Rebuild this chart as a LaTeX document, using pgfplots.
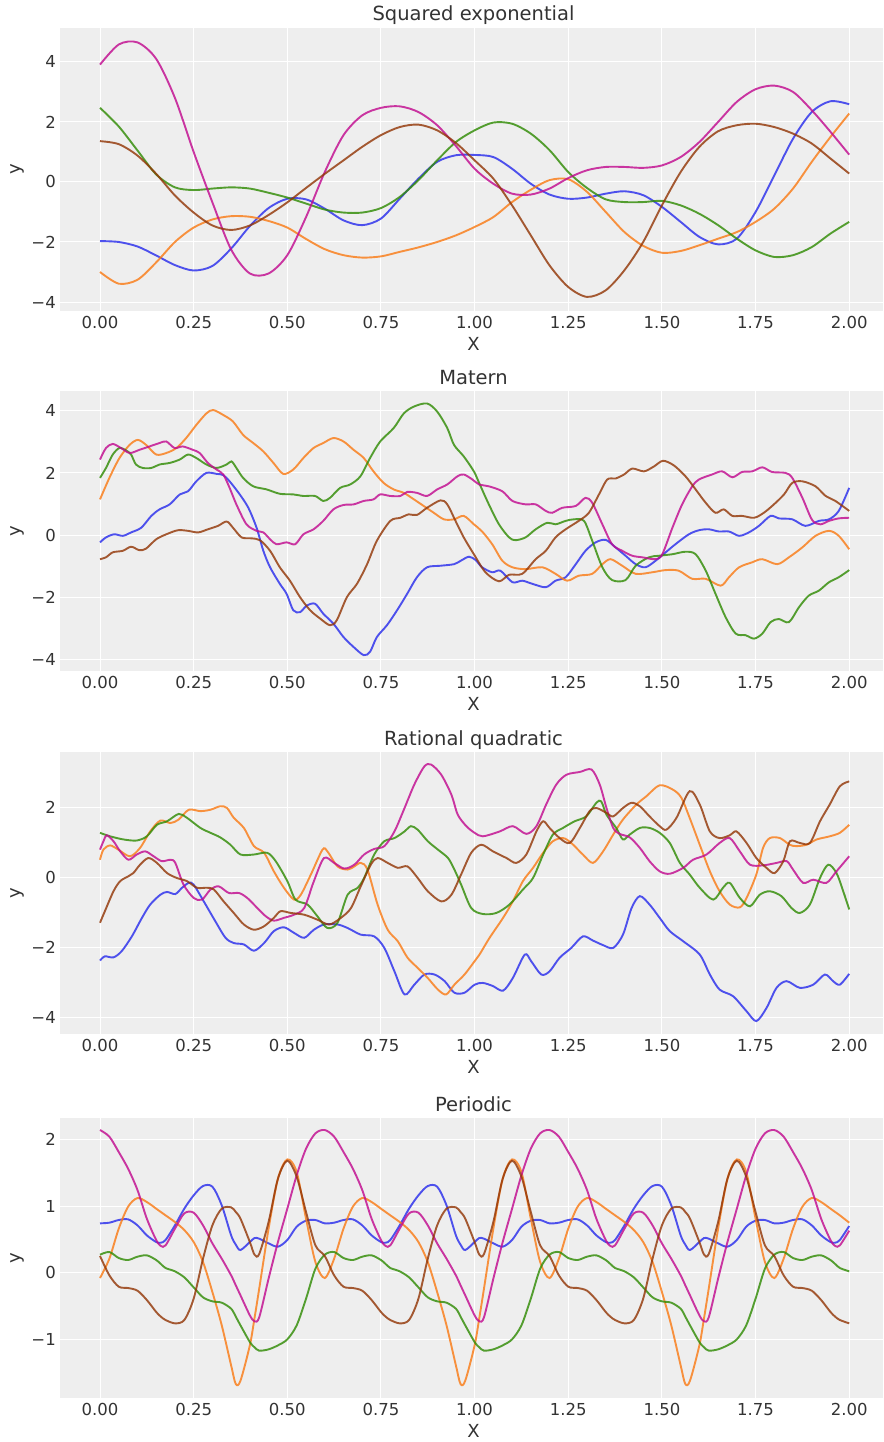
\documentclass[border=0pt]{standalone}
\usepackage{fontspec}
\setmainfont{DejaVu Sans}
\usepackage{pgfplots}
\usepackage{pgfplotstable}
\pgfplotsset{compat=1.18}
\definecolor{cB}{HTML}{2A2EEC}
\definecolor{cO}{HTML}{FA7C17}
\definecolor{cG}{HTML}{328C06}
\definecolor{cM}{HTML}{C10C90}
\definecolor{cR}{HTML}{933708}
\definecolor{bgc}{HTML}{EEEEEE}
\definecolor{txt}{HTML}{333333}

\pgfplotstableread{
x b o g m r
0.00 -1.97 -3.00 2.47 3.91 1.36
0.05 -2.00 -3.39 1.85 4.58 1.26
0.10 -2.15 -3.26 1.05 4.65 0.88
0.15 -2.45 -2.68 0.25 4.10 0.27
0.20 -2.77 -2.00 -0.18 2.80 -0.45
0.25 -2.95 -1.52 -0.27 1.00 -1.02
0.30 -2.80 -1.25 -0.22 -0.68 -1.45
0.35 -2.22 -1.14 -0.18 -2.25 -1.60
0.40 -1.47 -1.16 -0.22 -3.05 -1.45
0.45 -0.87 -1.30 -0.36 -3.05 -1.10
0.50 -0.56 -1.52 -0.52 -2.44 -0.68
0.55 -0.58 -1.90 -0.72 -1.17 -0.20
0.60 -0.89 -2.24 -0.92 0.33 0.27
0.65 -1.28 -2.44 -1.02 1.56 0.72
0.70 -1.44 -2.52 -1.02 2.22 1.17
0.75 -1.22 -2.48 -0.87 2.47 1.56
0.80 -0.56 -2.33 -0.50 2.52 1.83
0.85 0.11 -2.18 0.06 2.33 1.91
0.90 0.67 -2.00 0.72 1.89 1.72
0.95 0.89 -1.78 1.33 1.20 1.30
1.00 0.90 -1.50 1.72 0.44 0.72
1.05 0.83 -1.17 1.98 -0.06 0.11
1.10 0.44 -0.67 1.94 -0.39 -0.78
1.15 -0.06 -0.26 1.61 -0.42 -1.78
1.20 -0.42 0.06 1.06 -0.22 -2.78
1.25 -0.56 0.09 0.33 0.13 -3.50
1.30 -0.52 -0.33 -0.20 0.39 -3.83
1.35 -0.39 -1.00 -0.58 0.50 -3.61
1.40 -0.31 -1.67 -0.67 0.50 -2.94
1.45 -0.44 -2.13 -0.67 0.47 -2.00
1.50 -0.83 -2.36 -0.63 0.55 -0.78
1.55 -1.33 -2.30 -0.78 0.83 0.33
1.60 -1.83 -2.11 -1.06 1.33 1.17
1.65 -2.08 -1.89 -1.44 2.00 1.69
1.70 -1.89 -1.67 -1.89 2.67 1.89
1.75 -1.00 -1.33 -2.28 3.09 1.94
1.80 0.22 -0.89 -2.50 3.21 1.83
1.85 1.44 -0.22 -2.44 3.00 1.61
1.90 2.33 0.67 -2.17 2.39 1.28
1.95 2.69 1.50 -1.72 1.67 0.78
2.00 2.59 2.28 -1.33 0.91 0.28
}\tabSE

\pgfplotstableread{
x y
0.000 -0.23
0.016 -0.07
0.038 0.03
0.061 -0.02
0.083 0.09
0.110 0.24
0.137 0.62
0.159 0.83
0.186 0.99
0.213 1.31
0.235 1.41
0.257 1.73
0.284 2.00
0.311 1.97
0.329 1.93
0.346 1.73
0.373 1.31
0.396 0.88
0.418 0.24
0.436 -0.50
0.454 -1.03
0.480 -1.56
0.498 -1.88
0.516 -2.41
0.534 -2.47
0.552 -2.26
0.574 -2.20
0.596 -2.52
0.623 -2.84
0.650 -3.27
0.677 -3.59
0.704 -3.85
0.721 -3.74
0.739 -3.27
0.766 -2.89
0.793 -2.41
0.820 -1.88
0.846 -1.35
0.873 -1.03
0.909 -0.98
0.945 -0.93
0.963 -0.82
0.985 -0.69
1.003 -0.80
1.020 -1.03
1.047 -1.19
1.069 -1.14
1.101 -1.51
1.127 -1.46
1.154 -1.56
1.190 -1.67
1.216 -1.46
1.243 -1.35
1.270 -0.93
1.296 -0.50
1.323 -0.23
1.350 -0.15
1.376 -0.39
1.403 -0.66
1.430 -0.93
1.456 -1.03
1.483 -0.82
1.510 -0.55
1.536 -0.29
1.572 0.03
1.599 0.16
1.625 0.19
1.652 0.12
1.679 0.12
1.706 -0.02
1.732 0.09
1.759 0.30
1.790 0.62
1.812 0.54
1.848 0.51
1.883 0.30
1.919 0.46
1.946 0.51
1.972 0.78
2.000 1.52
}\tabMb

\pgfplotstableread{
x y
0.000 1.15
0.025 1.84
0.052 2.48
0.079 2.90
0.101 3.06
0.123 2.90
0.150 2.59
0.177 2.64
0.204 2.80
0.230 3.12
0.257 3.54
0.284 3.91
0.302 4.02
0.329 3.86
0.355 3.65
0.382 3.22
0.409 2.96
0.436 2.69
0.463 2.32
0.489 1.97
0.516 2.11
0.543 2.48
0.570 2.80
0.596 2.96
0.623 3.12
0.650 3.01
0.677 2.74
0.704 2.48
0.730 2.05
0.757 1.68
0.784 1.47
0.811 1.36
0.838 1.15
0.864 0.94
0.891 0.72
0.918 0.51
0.945 0.51
0.971 0.62
0.998 0.35
1.020 0.12
1.047 -0.29
1.074 -0.82
1.101 -1.03
1.136 -1.09
1.181 -1.03
1.216 -1.24
1.247 -1.46
1.278 -1.30
1.314 -1.24
1.341 -0.93
1.363 -0.77
1.394 -0.98
1.430 -1.24
1.474 -1.19
1.510 -1.12
1.545 -1.14
1.581 -1.40
1.617 -1.40
1.657 -1.62
1.679 -1.35
1.706 -1.03
1.741 -0.87
1.768 -0.77
1.808 -0.93
1.839 -0.71
1.875 -0.39
1.910 -0.02
1.946 0.14
1.972 -0.02
2.000 -0.45
}\tabMo

\pgfplotstableread{
x y
0.000 1.84
0.016 2.16
0.034 2.59
0.052 2.80
0.070 2.72
0.083 2.59
0.096 2.27
0.114 2.16
0.137 2.16
0.159 2.27
0.186 2.32
0.213 2.43
0.235 2.59
0.257 2.48
0.284 2.27
0.311 2.16
0.338 2.27
0.351 2.37
0.364 2.16
0.382 1.84
0.409 1.57
0.445 1.47
0.480 1.33
0.516 1.31
0.543 1.26
0.574 1.26
0.596 1.10
0.614 1.20
0.641 1.52
0.668 1.63
0.695 1.89
0.721 2.48
0.748 3.01
0.784 3.44
0.811 3.91
0.838 4.13
0.873 4.23
0.900 3.97
0.927 3.44
0.945 2.90
0.971 2.53
0.998 2.05
1.012 1.68
1.038 0.99
1.065 0.35
1.092 -0.07
1.109 -0.16
1.136 -0.07
1.163 0.19
1.194 0.40
1.216 0.35
1.243 0.46
1.265 0.51
1.292 0.46
1.314 -0.18
1.341 -1.03
1.367 -1.44
1.403 -1.44
1.430 -0.98
1.465 -0.71
1.492 -0.66
1.528 -0.61
1.563 -0.53
1.590 -0.61
1.617 -1.14
1.643 -1.88
1.670 -2.63
1.697 -3.16
1.723 -3.21
1.746 -3.32
1.768 -3.16
1.790 -2.79
1.812 -2.69
1.839 -2.79
1.866 -2.31
1.892 -1.94
1.919 -1.78
1.946 -1.51
1.972 -1.35
2.000 -1.12
}\tabMg

\pgfplotstableread{
x y
0.000 2.43
0.016 2.80
0.034 2.93
0.056 2.80
0.079 2.64
0.105 2.74
0.132 2.85
0.159 2.96
0.177 3.01
0.199 2.80
0.221 2.85
0.248 2.74
0.266 2.64
0.288 2.32
0.311 2.11
0.329 1.95
0.346 1.52
0.364 0.99
0.391 0.35
0.418 0.14
0.436 0.09
0.454 -0.13
0.471 -0.29
0.498 -0.23
0.521 -0.29
0.543 0.03
0.570 0.19
0.596 0.46
0.623 0.83
0.650 0.97
0.677 0.99
0.704 1.10
0.730 1.15
0.748 1.31
0.775 1.26
0.802 1.26
0.820 1.39
0.846 1.36
0.873 1.26
0.900 1.47
0.927 1.63
0.954 1.89
0.971 1.95
0.994 1.79
1.012 1.63
1.038 1.57
1.074 1.41
1.101 1.10
1.136 0.99
1.163 0.99
1.190 0.78
1.207 0.72
1.234 0.88
1.270 0.94
1.296 1.20
1.314 1.04
1.341 0.35
1.367 -0.29
1.394 -0.50
1.421 -0.66
1.448 -0.71
1.483 -0.77
1.501 -0.61
1.528 0.24
1.554 0.99
1.581 1.57
1.599 1.79
1.634 1.95
1.661 2.05
1.688 1.86
1.714 2.03
1.741 2.05
1.768 2.18
1.794 2.03
1.830 2.00
1.848 1.84
1.875 1.20
1.901 0.49
1.923 0.35
1.946 0.46
1.972 0.54
2.000 0.56
}\tabMm

\pgfplotstableread{
x y
0.000 -0.77
0.016 -0.71
0.034 -0.55
0.061 -0.50
0.083 -0.37
0.105 -0.48
0.123 -0.43
0.150 -0.13
0.177 0.03
0.208 0.16
0.235 0.14
0.262 0.09
0.288 0.19
0.315 0.30
0.338 0.44
0.355 0.24
0.378 -0.07
0.404 -0.10
0.427 -0.16
0.454 -0.50
0.480 -1.03
0.507 -1.46
0.534 -1.99
0.561 -2.41
0.588 -2.68
0.614 -2.89
0.632 -2.73
0.659 -1.99
0.686 -1.56
0.713 -0.93
0.739 -0.18
0.775 0.46
0.802 0.56
0.824 0.67
0.846 0.65
0.873 0.88
0.909 1.12
0.927 0.99
0.949 0.46
0.971 -0.07
0.998 -0.61
1.029 -1.19
1.065 -1.48
1.092 -1.27
1.127 -1.24
1.163 -0.77
1.190 -0.50
1.216 -0.07
1.243 0.19
1.278 0.46
1.305 0.72
1.332 1.31
1.354 1.79
1.376 1.82
1.399 1.95
1.421 2.14
1.452 2.05
1.479 2.21
1.503 2.39
1.532 2.24
1.563 1.89
1.590 1.47
1.617 1.04
1.643 0.72
1.665 0.83
1.688 0.62
1.714 0.62
1.746 0.56
1.772 0.72
1.799 0.99
1.826 1.31
1.848 1.68
1.875 1.73
1.910 1.57
1.937 1.26
1.963 1.10
2.000 0.78
}\tabMr

\pgfplotstableread{
x y
0.000 -2.38
0.013 -2.26
0.036 -2.29
0.058 -2.11
0.085 -1.69
0.112 -1.16
0.134 -0.78
0.161 -0.50
0.179 -0.42
0.201 -0.48
0.219 -0.30
0.237 -0.16
0.250 -0.21
0.277 -0.69
0.308 -1.26
0.335 -1.73
0.357 -1.88
0.384 -1.92
0.411 -2.10
0.438 -1.88
0.464 -1.54
0.491 -1.43
0.518 -1.59
0.545 -1.73
0.571 -1.50
0.598 -1.35
0.634 -1.35
0.661 -1.45
0.696 -1.64
0.732 -1.69
0.759 -2.02
0.786 -2.69
0.813 -3.35
0.839 -3.07
0.866 -2.78
0.893 -2.78
0.920 -2.97
0.946 -3.30
0.973 -3.30
1.000 -3.07
1.022 -3.02
1.049 -3.11
1.076 -3.24
1.102 -2.88
1.134 -2.21
1.151 -2.40
1.178 -2.78
1.200 -2.69
1.227 -2.30
1.258 -2.02
1.289 -1.69
1.316 -1.81
1.343 -1.94
1.370 -2.02
1.396 -1.64
1.419 -0.88
1.441 -0.54
1.467 -0.78
1.494 -1.16
1.521 -1.54
1.557 -1.83
1.601 -2.21
1.628 -2.78
1.654 -3.21
1.690 -3.40
1.726 -3.83
1.752 -4.11
1.779 -3.74
1.806 -3.16
1.833 -2.97
1.868 -3.16
1.904 -3.07
1.935 -2.78
1.957 -2.97
1.975 -3.07
2.000 -2.76
}\tabRb

\pgfplotstableread{
x y
0.000 0.50
0.009 0.79
0.027 0.91
0.049 0.79
0.080 0.60
0.107 0.84
0.134 1.31
0.161 1.62
0.188 1.55
0.210 1.65
0.237 1.93
0.268 1.89
0.295 1.93
0.321 2.03
0.339 1.98
0.357 1.70
0.384 1.41
0.411 0.89
0.438 0.70
0.464 0.17
0.491 -0.30
0.518 -0.64
0.536 -0.50
0.563 0.08
0.594 0.79
0.607 0.74
0.634 0.31
0.661 0.22
0.679 0.31
0.696 0.41
0.714 0.22
0.741 -0.78
0.768 -1.50
0.795 -1.83
0.821 -2.30
0.848 -2.59
0.875 -2.88
0.902 -3.21
0.924 -3.35
0.946 -3.07
0.973 -2.78
1.000 -2.40
1.013 -2.21
1.040 -1.73
1.076 -1.16
1.102 -0.69
1.129 -0.11
1.156 0.27
1.183 0.70
1.209 1.03
1.236 1.12
1.258 0.98
1.289 0.65
1.316 0.41
1.343 0.74
1.370 1.22
1.396 1.65
1.432 2.08
1.459 2.32
1.494 2.63
1.530 2.50
1.552 2.27
1.574 1.70
1.601 0.93
1.628 0.17
1.654 -0.40
1.681 -0.78
1.708 -0.86
1.726 -0.59
1.752 0.08
1.770 0.84
1.788 1.12
1.815 1.12
1.841 0.93
1.859 0.89
1.886 0.93
1.913 1.08
1.948 1.17
1.975 1.27
2.000 1.50
}\tabRo

\pgfplotstableread{
x y
0.000 1.27
0.027 1.17
0.063 1.08
0.098 1.05
0.125 1.17
0.152 1.50
0.179 1.60
0.210 1.81
0.232 1.70
0.268 1.41
0.295 1.27
0.321 1.14
0.348 0.93
0.375 0.65
0.411 0.65
0.446 0.70
0.469 0.46
0.500 -0.11
0.522 -0.64
0.554 -0.78
0.580 -1.11
0.607 -1.45
0.634 -1.30
0.661 -0.50
0.688 -0.30
0.705 -0.02
0.732 0.65
0.759 1.03
0.786 1.12
0.813 1.31
0.830 1.46
0.848 1.36
0.875 1.03
0.902 0.79
0.929 0.55
0.946 0.22
0.964 -0.21
0.991 -0.88
1.022 -1.05
1.058 -1.02
1.093 -0.78
1.129 -0.35
1.156 -0.02
1.183 0.65
1.209 1.22
1.236 1.41
1.267 1.60
1.298 1.74
1.325 2.13
1.338 2.17
1.352 1.79
1.378 1.41
1.396 1.08
1.414 1.22
1.441 1.41
1.467 1.41
1.494 1.27
1.521 0.98
1.548 0.41
1.574 0.08
1.601 -0.30
1.637 -0.64
1.663 -0.30
1.681 -0.16
1.708 -0.59
1.735 -0.83
1.761 -0.50
1.788 -0.40
1.819 -0.54
1.846 -0.88
1.868 -1.02
1.895 -0.78
1.922 -0.02
1.944 0.36
1.966 0.12
1.984 -0.40
2.000 -0.92
}\tabRg

\pgfplotstableread{
x y
0.000 0.79
0.010 1.05
0.018 1.20
0.036 1.03
0.054 0.74
0.076 0.50
0.098 0.65
0.121 0.74
0.143 0.60
0.165 0.46
0.188 0.50
0.201 0.41
0.223 -0.21
0.250 -0.59
0.272 -0.64
0.295 -0.35
0.317 -0.26
0.344 -0.45
0.371 -0.45
0.393 -0.59
0.420 -0.88
0.442 -1.11
0.464 -1.24
0.491 -1.16
0.518 -1.07
0.545 -0.88
0.571 -0.11
0.598 0.55
0.625 0.41
0.652 0.25
0.679 0.36
0.705 0.65
0.732 0.81
0.759 0.89
0.786 1.31
0.813 1.98
0.839 2.65
0.866 3.17
0.884 3.22
0.911 2.93
0.938 2.36
0.955 1.79
0.978 1.46
1.000 1.27
1.022 1.17
1.067 1.31
1.102 1.46
1.138 1.24
1.165 1.46
1.191 2.08
1.218 2.65
1.245 2.93
1.281 3.01
1.312 3.08
1.334 2.65
1.352 1.98
1.370 1.41
1.387 1.24
1.414 1.14
1.441 0.84
1.467 0.46
1.494 0.17
1.521 0.10
1.557 0.27
1.583 0.50
1.619 0.65
1.654 0.98
1.681 1.12
1.708 0.74
1.735 0.36
1.770 0.34
1.806 0.41
1.833 0.46
1.850 0.22
1.877 -0.16
1.904 -0.07
1.939 -0.16
1.966 0.17
2.000 0.60
}\tabRm

\pgfplotstableread{
x y
0.000 -1.30
0.013 -0.97
0.036 -0.40
0.054 -0.11
0.076 0.03
0.089 0.12
0.107 0.36
0.129 0.55
0.152 0.41
0.179 0.12
0.205 -0.02
0.232 -0.11
0.259 -0.30
0.286 -0.30
0.304 -0.35
0.330 -0.69
0.357 -1.02
0.384 -1.35
0.411 -1.50
0.438 -1.40
0.464 -1.16
0.482 -0.97
0.509 -1.02
0.545 -1.07
0.580 -1.21
0.612 -1.35
0.643 -1.16
0.670 -0.88
0.696 -0.26
0.723 0.36
0.741 0.55
0.768 0.41
0.795 0.27
0.821 0.31
0.848 -0.02
0.875 -0.40
0.911 -0.69
0.938 -0.50
0.964 0.08
0.991 0.70
1.018 0.93
1.049 0.74
1.085 0.55
1.111 0.41
1.138 0.65
1.165 1.31
1.183 1.60
1.200 1.41
1.227 1.12
1.254 0.98
1.281 1.41
1.307 1.89
1.325 1.98
1.352 1.84
1.370 1.74
1.396 1.98
1.419 2.13
1.441 2.03
1.467 1.74
1.494 1.46
1.512 1.36
1.539 1.70
1.574 2.46
1.601 2.08
1.628 1.31
1.654 1.12
1.681 1.20
1.699 1.31
1.726 0.98
1.752 0.55
1.779 0.27
1.801 0.12
1.824 0.46
1.842 1.03
1.868 0.98
1.895 0.98
1.922 1.60
1.948 2.08
1.975 2.60
2.000 2.74
}\tabRr

\pgfplotstableread{
x b o g m r
0.0000 0.74 -0.08 0.27 2.14 0.25
0.0250 0.75 0.21 0.31 2.04 -0.04
0.0500 0.79 0.66 0.22 1.81 -0.21
0.0750 0.80 0.99 0.19 1.56 -0.23
0.1000 0.71 1.12 0.24 1.24 -0.27
0.1250 0.56 1.06 0.26 0.81 -0.41
0.1500 0.46 0.96 0.19 0.49 -0.59
0.1625 0.45 0.91 0.13 0.40 -0.66
0.1750 0.49 0.86 0.07 0.41 -0.71
0.2000 0.71 0.76 0.02 0.66 -0.76
0.2250 0.96 0.64 -0.07 0.89 -0.71
0.2500 1.16 0.46 -0.22 0.90 -0.39
0.2750 1.30 0.16 -0.37 0.71 0.21
0.3000 1.29 -0.29 -0.43 0.44 0.71
0.3250 1.01 -0.79 -0.45 0.21 0.96
0.3500 0.56 -1.39 -0.54 -0.04 0.98
0.3625 0.42 -1.67 -0.66 -0.19 0.91
0.3750 0.34 -1.62 -0.79 -0.34 0.81
0.4000 0.46 -1.09 -1.04 -0.64 0.46
0.4125 0.52 -0.68 -1.12 -0.73 0.27
0.4250 0.51 -0.24 -1.17 -0.67 0.28
0.4500 0.44 0.66 -1.15 -0.09 0.76
0.4750 0.39 1.41 -1.09 0.46 1.41
0.5000 0.49 1.70 -1.00 0.96 1.68
0.5250 0.69 1.51 -0.79 1.46 1.44
0.5500 0.78 0.81 -0.39 1.86 0.91
0.5750 0.79 0.16 0.06 2.09 0.41
0.6000 0.74 -0.08 0.27 2.14 0.25
0.6250 0.75 0.21 0.31 2.04 -0.04
0.6500 0.79 0.66 0.22 1.81 -0.21
0.6750 0.80 0.99 0.19 1.56 -0.23
0.7000 0.71 1.12 0.24 1.24 -0.27
0.7250 0.56 1.06 0.26 0.81 -0.41
0.7500 0.46 0.96 0.19 0.49 -0.59
0.7625 0.45 0.91 0.13 0.40 -0.66
0.7750 0.49 0.86 0.07 0.41 -0.71
0.8000 0.71 0.76 0.02 0.66 -0.76
0.8250 0.96 0.64 -0.07 0.89 -0.71
0.8500 1.16 0.46 -0.22 0.90 -0.39
0.8750 1.30 0.16 -0.37 0.71 0.21
0.9000 1.29 -0.29 -0.43 0.44 0.71
0.9250 1.01 -0.79 -0.45 0.21 0.96
0.9500 0.56 -1.39 -0.54 -0.04 0.98
0.9625 0.42 -1.67 -0.66 -0.19 0.91
0.9750 0.34 -1.62 -0.79 -0.34 0.81
1.0000 0.46 -1.09 -1.04 -0.64 0.46
1.0125 0.52 -0.68 -1.12 -0.73 0.27
1.0250 0.51 -0.24 -1.17 -0.67 0.28
1.0500 0.44 0.66 -1.15 -0.09 0.76
1.0750 0.39 1.41 -1.09 0.46 1.41
1.1000 0.49 1.70 -1.00 0.96 1.68
1.1250 0.69 1.51 -0.79 1.46 1.44
1.1500 0.78 0.81 -0.39 1.86 0.91
1.1750 0.79 0.16 0.06 2.09 0.41
1.2000 0.74 -0.08 0.27 2.14 0.25
1.2250 0.75 0.21 0.31 2.04 -0.04
1.2500 0.79 0.66 0.22 1.81 -0.21
1.2750 0.80 0.99 0.19 1.56 -0.23
1.3000 0.71 1.12 0.24 1.24 -0.27
1.3250 0.56 1.06 0.26 0.81 -0.41
1.3500 0.46 0.96 0.19 0.49 -0.59
1.3625 0.45 0.91 0.13 0.40 -0.66
1.3750 0.49 0.86 0.07 0.41 -0.71
1.4000 0.71 0.76 0.02 0.66 -0.76
1.4250 0.96 0.64 -0.07 0.89 -0.71
1.4500 1.16 0.46 -0.22 0.90 -0.39
1.4750 1.30 0.16 -0.37 0.71 0.21
1.5000 1.29 -0.29 -0.43 0.44 0.71
1.5250 1.01 -0.79 -0.45 0.21 0.96
1.5500 0.56 -1.39 -0.54 -0.04 0.98
1.5625 0.42 -1.67 -0.66 -0.19 0.91
1.5750 0.34 -1.62 -0.79 -0.34 0.81
1.6000 0.46 -1.09 -1.04 -0.64 0.46
1.6125 0.52 -0.68 -1.12 -0.73 0.27
1.6250 0.51 -0.24 -1.17 -0.67 0.28
1.6500 0.44 0.66 -1.15 -0.09 0.76
1.6750 0.39 1.41 -1.09 0.46 1.41
1.7000 0.49 1.70 -1.00 0.96 1.68
1.7250 0.69 1.51 -0.79 1.46 1.44
1.7500 0.78 0.81 -0.39 1.86 0.91
1.7750 0.79 0.16 0.06 2.09 0.41
1.8000 0.74 -0.08 0.27 2.14 0.25
1.8250 0.75 0.21 0.31 2.04 -0.04
1.8500 0.79 0.66 0.22 1.81 -0.21
1.8750 0.80 0.99 0.19 1.56 -0.23
1.9000 0.71 1.12 0.24 1.24 -0.27
1.9250 0.56 1.06 0.26 0.81 -0.41
1.9500 0.46 0.96 0.19 0.49 -0.59
1.9625 0.45 0.91 0.13 0.40 -0.66
1.9750 0.49 0.86 0.07 0.41 -0.71
2.0000 0.70 0.75 0.02 0.63 -0.76
}\tabPer

\pgfplotsset{
  gpax/.style={
    scale only axis, width=823pt, anchor=north west,
    xmin=-0.1068, xmax=2.0902,
    xtick={0,0.25,0.5,0.75,1,1.25,1.5,1.75,2},
    xticklabels={0.00,0.25,0.50,0.75,1.00,1.25,1.50,1.75,2.00},
    axis background/.style={fill=bgc},
    axis line style={draw=none},
    major tick length=0pt,
    tick style={draw=none},
    grid=major,
    major grid style={white, line width=1.0pt},
    ticklabel style={font=\fontsize{16.5}{18}\selectfont, text=txt, inner sep=0pt},
    xticklabel style={anchor=north, yshift=-5pt},
    yticklabel style={anchor=east, xshift=-4pt},
    title style={at={(axis description cs:0.5024,1)}, anchor=base, yshift=1pt, font=\fontsize{19.5}{22}\selectfont, text=txt, inner sep=0pt},
    xlabel={X}, ylabel={y},
    xlabel style={at={(axis description cs:0.5024,0)}, anchor=north, yshift=-26pt, font=\fontsize{18}{20}\selectfont, text=txt, inner sep=0pt},
    ylabel style={at={(axis description cs:-0.0437,0.5)}, anchor=south, font=\fontsize{18}{20}\selectfont, text=txt, inner sep=0pt},
    every axis plot/.append style={smooth, tension=0.5, line width=1.9pt, draw opacity=0.82, mark=none},
  }
}

\begin{document}
\begin{tikzpicture}
\path[use as bounding box] (0pt,0pt) rectangle (883pt,-1442pt);

\begin{axis}[gpax, at={(60pt,-28pt)}, height=283pt,
  ymin=-4.3, ymax=5.13,
  ytick={-4,-2,0,2,4}, yticklabels={−4,−2,0,2,4},
  title={Squared exponential}]
\addplot[cB] table[x=x,y=b] {\tabSE};
\addplot[cO] table[x=x,y=o] {\tabSE};
\addplot[cG] table[x=x,y=g] {\tabSE};
\addplot[cM] table[x=x,y=m] {\tabSE};
\addplot[cR] table[x=x,y=r] {\tabSE};
\end{axis}

\begin{axis}[gpax, at={(60pt,-391pt)}, height=280pt,
  ymin=-4.36, ymax=4.63,
  ytick={-4,-2,0,2,4}, yticklabels={−4,−2,0,2,4},
  title={Matern}]
\addplot[cB] table {\tabMb};
\addplot[cO] table {\tabMo};
\addplot[cG] table {\tabMg};
\addplot[cM] table {\tabMm};
\addplot[cR] table {\tabMr};
\end{axis}

\begin{axis}[gpax, at={(60pt,-752pt)}, height=282pt,
  ymin=-4.48, ymax=3.58,
  ytick={-4,-2,0,2}, yticklabels={−4,−2,0,2},
  title={Rational quadratic}]
\addplot[cB] table {\tabRb};
\addplot[cO] table {\tabRo};
\addplot[cG] table {\tabRg};
\addplot[cM] table {\tabRm};
\addplot[cR] table {\tabRr};
\end{axis}

\begin{axis}[gpax, at={(60pt,-1118pt)}, height=280pt,
  ymin=-1.88, ymax=2.32,
  ytick={-1,0,1,2}, yticklabels={−1,0,1,2},
  title={Periodic}]
\addplot[cB] table[x=x,y=b] {\tabPer};
\addplot[cO] table[x=x,y=o] {\tabPer};
\addplot[cG] table[x=x,y=g] {\tabPer};
\addplot[cM] table[x=x,y=m] {\tabPer};
\addplot[cR] table[x=x,y=r] {\tabPer};
\end{axis}
\end{tikzpicture}
\end{document}
